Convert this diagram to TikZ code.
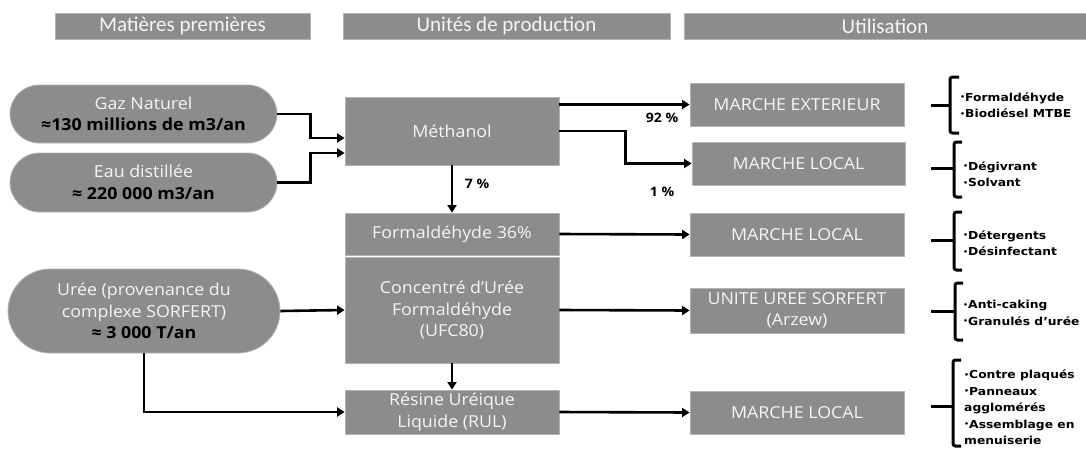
\documentclass[tikz,border=0pt]{standalone}
\usepackage{fontspec}
\setmainfont{Open Sans}[FakeStretch=1.08]
\newfontfamily\headfont{Carlito}
\newfontfamily\listfont{DejaVu Sans}[FakeStretch=1.12]
\usetikzlibrary{arrows.meta}
\definecolor{boxgray}{RGB}{140,140,140}
\definecolor{edgegray}{RGB}{180,180,180}
\definecolor{txtwhite}{RGB}{245,245,245}
\newcommand\bul{\raisebox{1.4pt}{\fontsize{7}{7}\selectfont•}}
\tikzset{
 box/.style={draw=edgegray, line width=0.8pt, fill=boxgray, text=txtwhite, align=center, inner sep=0pt, font=\fontsize{16.5}{21.5}\selectfont},
 head/.style={draw=edgegray, line width=0.8pt, fill=boxgray, text=txtwhite, inner sep=0pt, minimum height=26pt, font=\headfont\fontsize{21}{24}\selectfont},
 arr/.style={line width=2.6pt, -{Triangle[length=7.5pt,width=9pt]}},
 brk/.style={line width=3pt, rounded corners=2.5pt},
 lst/.style={anchor=west, align=left, inner sep=0pt, font=\fontsize{11}{16.5}\listfont\bfseries},
 pct/.style={inner sep=0pt, font=\bfseries\fontsize{13}{15}\selectfont},
}
\begin{document}
\begin{tikzpicture}[x=1pt,y=-1pt]
\useasboundingbox (0,0) rectangle (1086,448);
% headers
\node[head, minimum width=255pt] (h1) at (182.5,26) {Matières premières};
\node[head, minimum width=327pt] (h2) at (506.5,26) {Unités de production};
\node[head, minimum width=402pt] (h3) at (885,26) {Utilisation};
% raw materials
\node[box, minimum width=267pt, minimum height=58pt, rounded corners=29pt] (gaz) at (143.5,114) {Gaz Naturel\\\textcolor{black}{\bfseries ≈130 millions de m3/an}};
\node[box, minimum width=267pt, minimum height=59pt, rounded corners=29.5pt] (eau) at (143.5,182.5) {Eau distillée\\\textcolor{black}{\bfseries ≈ 220 000 m3/an}};
\node[box, minimum width=272pt, minimum height=84pt, rounded corners=42pt] (uree) at (144,311) {Urée (provenance du\\complexe SORFERT)\\\textcolor{black}{\bfseries ≈ 3 000 T/an}};
% production units
\node[box, minimum width=214pt, minimum height=68pt] (meth) at (452,131) {Méthanol};
\node[box, minimum width=214pt, minimum height=42pt] (form) at (452,234) {Formaldéhyde 36\%};
\node[box, minimum width=214pt, minimum height=106pt] (conc) at (452,310) {Concentré d’Urée\\Formaldéhyde\\(UFC80)};
\node[box, minimum width=214pt, minimum height=44pt] (res) at (452,412) {Résine Uréique\\Liquide (RUL)};
% markets
\node[box, minimum width=214pt, minimum height=43pt] (ext) at (797,104.5) {MARCHE EXTERIEUR};
\node[box, minimum width=213pt, minimum height=43pt] (loc1) at (798.5,163.5) {MARCHE LOCAL};
\node[box, minimum width=214pt, minimum height=43pt] (loc2) at (797,234.5) {MARCHE LOCAL};
\node[box, minimum width=214pt, minimum height=45pt] (unite) at (797,310.5) {UNITE UREE SORFERT\\(Arzew)};
\node[box, minimum width=214pt, minimum height=43pt] (loc3) at (797,412.5) {MARCHE LOCAL};
% connectors
\draw[arr] (gaz.east) -- ++(33,0) |- ([yshift=-7pt]meth.west);
\draw[arr] (eau.east) -- ++(33,0) |- ([yshift=-22pt]meth.west);
\draw[arr] (ext.west -| meth.east) -- (ext.west);
\draw[arr] (meth.east) -- ++(66,0) |- (loc1.west);
\draw[arr] (meth.south) -- (form.north);
\draw[arr] (form.east) -- (loc2.west);
\draw[arr] (uree.east) -- (conc.west);
\draw[arr] (conc.east) -- (unite.west);
\draw[arr] (conc.south) -- (res.north);
\draw[arr] (uree.south) |- (res.west);
\draw[arr] (res.east) -- (loc3.west);
% percentages
\node[pct] (p92) at (662,118) {92 \%};
\node[pct] (p1) at (662,192) {1 \%};
\node[pct] (p7) at (477,184) {7 \%};
% brackets
\draw[brk] (959,77) -- (950,77) -- (950,133) -- (959,133);
\draw[brk] (931,105) -- (950,105);
\draw[brk] (962,142) -- (954,142) -- (954,197) -- (962,197);
\draw[brk] (931,168) -- (954,168);
\draw[brk] (962,212) -- (954,212) -- (954,270) -- (962,270);
\draw[brk] (931,240) -- (954,240);
\draw[brk] (963,283) -- (955,283) -- (955,340) -- (963,340);
\draw[brk] (931,311) -- (955,311);
\draw[brk] (961,360) -- (953,360) -- (953,446) -- (961,446);
\draw[brk] (931,406) -- (953,406);
% uses
\node[lst] (u1) at (960,105) {\bul Formaldéhyde\\\bul Biodiésel MTBE};
\node[lst] (u2) at (963,174) {\bul Dégivrant\\\bul Solvant};
\node[lst] (u3) at (963,243) {\bul Détergents\\\bul Désinfectant};
\node[lst] (u4) at (963,313) {\bul Anti-caking\\\bul Granulés d’urée};
\node[lst] (u5) at (964,407.5) {\bul Contre plaqués\\\bul Panneaux\\agglomérés\\\bul Assemblage en\\menuiserie};
\end{tikzpicture}
\end{document}
